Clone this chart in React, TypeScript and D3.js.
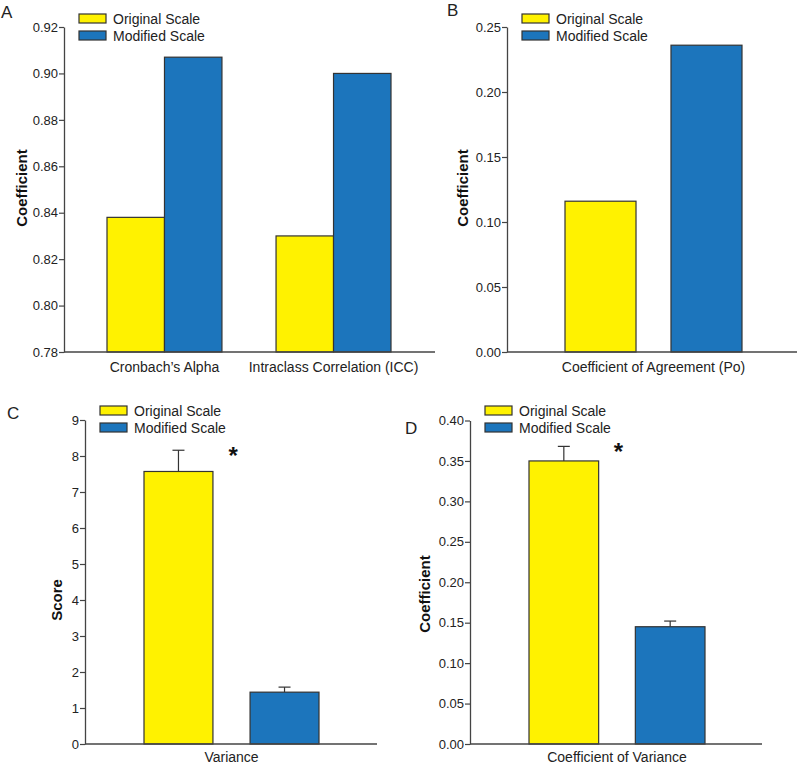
import { useEffect, useRef } from 'react';
import * as d3 from 'd3';

// Panel A - reliability
const categoriesA = ['Cronbach\u2019s Alpha', 'Intraclass Correlation (ICC)'];
const originalA = [0.838, 0.83];
const modifiedA = [0.907, 0.9];
const ticksA = [0.78, 0.8, 0.82, 0.84, 0.86, 0.88, 0.9, 0.92];

// Panel B - agreement
const categoriesB = ['Coefficient of Agreement (Po)'];
const originalB = [0.116];
const modifiedB = [0.236];
const ticksB = [0, 0.05, 0.1, 0.15, 0.2, 0.25];

// Panel C - variance
const categoriesC = ['Variance'];
const originalC = [7.57];
const modifiedC = [1.44];
const originalErrC = [0.59];
const modifiedErrC = [0.14];
const ticksC = [0, 1, 2, 3, 4, 5, 6, 7, 8, 9];

// Panel D - coefficient of variance
const categoriesD = ['Coefficient of Variance'];
const originalD = [0.35];
const modifiedD = [0.145];
const originalErrD = [0.018];
const modifiedErrD = [0.007];
const ticksD = [0, 0.05, 0.1, 0.15, 0.2, 0.25, 0.3, 0.35, 0.4];

const seriesNames = ['Original Scale', 'Modified Scale'];
const colors = ['#fff200', '#1c75bc'];

const FONT = 'Liberation Sans, Arial, sans-serif';

type Panel = {
  letter: string;
  letterPos: [number, number];
  categories: string[];
  original: number[];
  modified: number[];
  originalErr?: number[];
  modifiedErr?: number[];
  ticks: number[];
  fmt: (v: number) => string;
  yLabel: string;
  yLabelPos: [number, number];
  axisX: number;
  axisEnd: number;
  yTop: number;
  yBottom: number;
  barRange: [number, number];
  outerPad: number;
  innerPad: number;
  legend: [number, number];
  catOffset: number;
  star?: boolean;
};

function drawPanel(svg: d3.Selection<SVGSVGElement, unknown, null, undefined>, p: Panel) {
  const g = svg.append('g');
  const domain = [p.ticks[0], p.ticks[p.ticks.length - 1]];
  const y = d3.scaleLinear().domain(domain).range([p.yBottom, p.yTop]);

  const x0 = d3.scaleBand<string>()
    .domain(p.categories)
    .range(p.barRange)
    .paddingInner(p.outerPad)
    .paddingOuter(0);
  const x1 = d3.scaleBand<string>()
    .domain(seriesNames)
    .range([0, x0.bandwidth()])
    .paddingInner(p.innerPad);

  const values = [p.original, p.modified];
  const errs = [p.originalErr, p.modifiedErr];

  // bars
  p.categories.forEach((c, ci) => {
    seriesNames.forEach((s, si) => {
      const v = values[si][ci];
      const bx = (x0(c) ?? 0) + (x1(s) ?? 0);
      const e = errs[si];
      if (e) {
        const cx = bx + x1.bandwidth() / 2;
        g.append('line')
          .attr('x1', cx).attr('x2', cx)
          .attr('y1', y(v)).attr('y2', y(v + e[ci]))
          .attr('stroke', '#333').attr('stroke-width', 1.2);
        g.append('line')
          .attr('x1', cx - 6).attr('x2', cx + 6)
          .attr('y1', y(v + e[ci])).attr('y2', y(v + e[ci]))
          .attr('stroke', '#333').attr('stroke-width', 1.2);
      }
      g.append('rect')
        .attr('x', bx)
        .attr('y', y(v))
        .attr('width', x1.bandwidth())
        .attr('height', y(domain[0]) - y(v))
        .attr('fill', colors[si])
        .attr('stroke', '#333')
        .attr('stroke-width', 1.2);
    });
  });

  if (p.star) {
    const c = p.categories[0];
    const e = p.originalErr ? p.originalErr[0] : 0;
    const sx = (x0(c) ?? 0) + (x1(seriesNames[1]) ?? 0) - 17;
    g.append('text')
      .attr('x', sx)
      .attr('y', y(p.original[0] + e) + 14)
      .attr('text-anchor', 'middle')
      .attr('font-family', FONT)
      .attr('font-size', 24)
      .attr('font-weight', 'bold')
      .attr('fill', '#111')
      .text('*');
  }

  // y axis
  const ya = g.append('g')
    .attr('transform', `translate(${p.axisX},0)`)
    .call(d3.axisLeft(y).tickValues(p.ticks).tickFormat(d => p.fmt(d as number)).tickSize(5).tickSizeOuter(0));
  ya.select('.domain').attr('stroke', '#444').attr('stroke-width', 1.3);
  ya.selectAll('.tick line').attr('stroke', '#444').attr('stroke-width', 1.2);
  ya.selectAll('.tick text')
    .attr('font-family', FONT)
    .attr('font-size', 13)
    .attr('fill', '#222')
    .attr('x', -6);

  // x axis line
  g.append('line')
    .attr('x1', p.axisX).attr('x2', p.axisEnd)
    .attr('y1', p.yBottom).attr('y2', p.yBottom)
    .attr('stroke', '#444').attr('stroke-width', 1.3);

  p.categories.forEach(c => {
    g.append('text')
      .attr('x', (x0(c) ?? 0) + x0.bandwidth() / 2)
      .attr('y', p.yBottom + p.catOffset)
      .attr('text-anchor', 'middle')
      .attr('font-family', FONT)
      .attr('font-size', 14)
      .attr('fill', '#222')
      .text(c);
  });

  // y label
  g.append('text')
    .attr('transform', `translate(${p.yLabelPos[0]},${p.yLabelPos[1]}) rotate(-90)`)
    .attr('text-anchor', 'middle')
    .attr('dominant-baseline', 'central')
    .attr('font-family', FONT)
    .attr('font-size', 15)
    .attr('font-weight', 'bold')
    .attr('fill', '#111')
    .text(p.yLabel);

  // panel letter
  g.append('text')
    .attr('x', p.letterPos[0])
    .attr('y', p.letterPos[1])
    .attr('font-family', FONT)
    .attr('font-size', 17)
    .attr('fill', '#222')
    .text(p.letter);

  // legend
  seriesNames.forEach((s, i) => {
    const ly = p.legend[1] + i * 17;
    g.append('rect')
      .attr('x', p.legend[0]).attr('y', ly)
      .attr('width', 27).attr('height', 9)
      .attr('fill', colors[i])
      .attr('stroke', '#333').attr('stroke-width', 1.2);
    g.append('text')
      .attr('x', p.legend[0] + 34).attr('y', ly + 4.5)
      .attr('dominant-baseline', 'central')
      .attr('font-family', FONT)
      .attr('font-size', 14)
      .attr('fill', '#222')
      .text(s);
  });
}

const f2 = d3.format('.2f');
const f0 = d3.format('d');

const panels: Panel[] = [
  {
    letter: 'A', letterPos: [1, 18],
    categories: categoriesA, original: originalA, modified: modifiedA,
    ticks: ticksA, fmt: f2, yLabel: 'Coefficient', yLabelPos: [21, 188],
    axisX: 64, axisEnd: 435, yTop: 27, yBottom: 352,
    barRange: [107, 391], outerPad: 0.32, innerPad: 0,
    legend: [79, 14], catOffset: 20,
  },
  {
    letter: 'B', letterPos: [447, 16],
    categories: categoriesB, original: originalB, modified: modifiedB,
    ticks: ticksB, fmt: f2, yLabel: 'Coefficient', yLabelPos: [462, 188],
    axisX: 507, axisEnd: 797, yTop: 27, yBottom: 352,
    barRange: [565, 742], outerPad: 0, innerPad: 0.33,
    legend: [522, 14], catOffset: 20,
  },
  {
    letter: 'C', letterPos: [7, 419],
    categories: categoriesC, original: originalC, modified: modifiedC,
    originalErr: originalErrC, modifiedErr: modifiedErrC,
    ticks: ticksC, fmt: f0, yLabel: 'Score', yLabelPos: [56, 600],
    axisX: 85, axisEnd: 377, yTop: 420, yBottom: 744,
    barRange: [144, 319], outerPad: 0, innerPad: 0.35,
    legend: [100, 406], catOffset: 18, star: true,
  },
  {
    letter: 'D', letterPos: [405, 434],
    categories: categoriesD, original: originalD, modified: modifiedD,
    originalErr: originalErrD, modifiedErr: modifiedErrD,
    ticks: ticksD, fmt: f2, yLabel: 'Coefficient', yLabelPos: [424, 594],
    axisX: 470, axisEnd: 762, yTop: 420.5, yBottom: 744,
    barRange: [529, 705], outerPad: 0, innerPad: 0.345,
    legend: [485, 406], catOffset: 18, star: true,
  },
];

const App = () => {
  const ref = useRef<SVGSVGElement>(null);

  useEffect(() => {
    if (!ref.current) return;
    const svg = d3.select(ref.current);
    svg.selectAll('*').remove();
    panels.forEach(p => drawPanel(svg, p));
  }, []);

  return (
    <svg
      ref={ref}
      width={800}
      height={764}
      style={{ position: 'absolute', left: 0, top: 0, background: '#fff' }}
    />
  );
};

export default App;
